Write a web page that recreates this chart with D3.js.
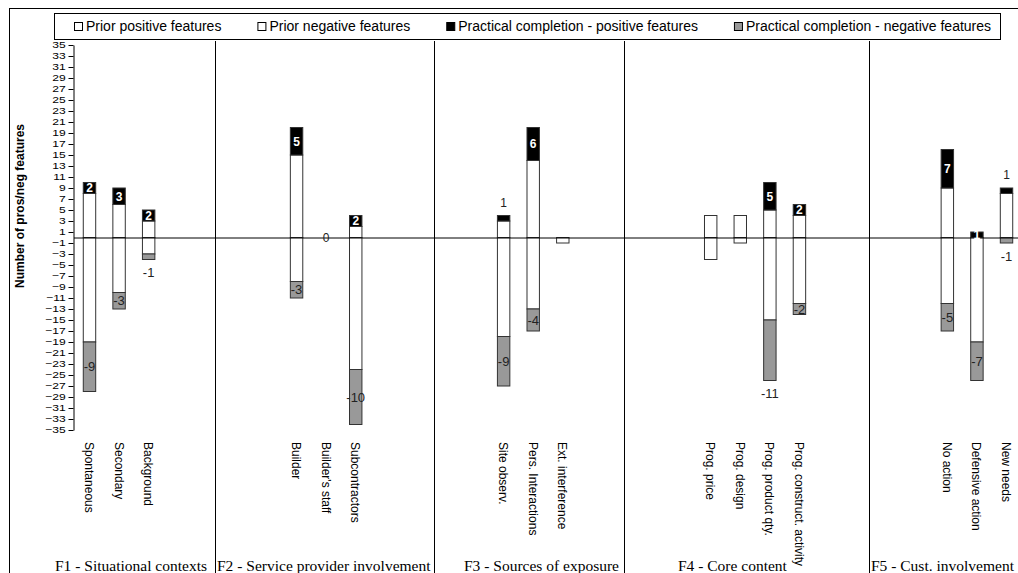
<!DOCTYPE html>
<html><head><meta charset="utf-8">
<script src="https://cdn.jsdelivr.net/npm/d3@7"></script>
<style>
body{margin:0;background:#fff}
svg{display:block}
text{font-family:"Liberation Sans",Arial,sans-serif}
text.serif{font-family:"Liberation Serif","Times New Roman",serif}
</style>
</head><body>
<svg id="c" width="1018" height="573"></svg>
<script>
// ---------- data ----------
const groupNames = ["F1 - Situational contexts","F2 - Service provider involvement","F3 - Sources of exposure","F4 - Core content","F5 - Cust. involvement"];
const categories = ["Spontaneous","Secondary","Background","Builder","Builder's staff","Subcontractors","Site observ.","Pers. Interactions","Ext. interference","Prog. price","Prog. design","Prog. product qty.","Prog. construct. activity","No action","Defensive action","New needs"];
const categoryGroup = [0,0,0,1,1,1,2,2,2,3,3,3,3,4,4,4];
const priorPositive     = [8,6,3, 15,0,2, 3,14,0, 4,4,5,4, 9,0,8];
const priorNegative     = [19,10,3, 8,0,24, 18,13,1, 4,1,15,12, 12,19,0];
const practicalPositive = [2,3,2, 5,0,2, 1,6,0, 0,0,5,2, 7,1,1];
const practicalNegative = [9,3,1, 3,0,10, 9,4,0, 0,0,11,2, 5,7,1];
const yTicks = [35,33,31,29,27,25,23,21,19,17,15,13,11,9,7,5,3,1,-1,-3,-5,-7,-9,-11,-13,-15,-17,-19,-21,-23,-25,-27,-29,-31,-33,-35];
const legendLabels = ["Prior positive features","Prior negative features","Practical completion - positive features","Practical completion - negative features"];
const labelAbove = ["Site observ.","New needs"];
const labelBelow = ["Background","Prog. product qty.","New needs"];

// ---------- layout ----------
const svg = d3.select("#c");
const W = 1018, H = 573;
const gapSlots = 4;
const legendFill = ["#fff","#fff","#000","#999"];

// band domain with spacer slots between groups
const domain = [];
groupNames.forEach((g, gi) => {
  if (gi > 0) for (let k = 0; k < gapSlots; k++) domain.push("gap" + gi + "_" + k);
  categories.forEach((c, ci) => { if (categoryGroup[ci] === gi) domain.push(c); });
});

const x = d3.scaleBand().domain(domain).range([74.2, 1020.8]).paddingInner(0.58).paddingOuter(0.29);
const y = d3.scaleLinear().domain([-35, 35]).range([430, 45]);
const bw = x.bandwidth();

// outer frame
svg.append("line").attr("x1",9).attr("x2",W).attr("y1",8.5).attr("y2",8.5).attr("stroke","#000");
svg.append("line").attr("x1",9.5).attr("x2",9.5).attr("y1",8).attr("y2",H).attr("stroke","#000");
// group separators
[215.5, 434.5, 624.5, 869.5].forEach(sx => {
  svg.append("line").attr("x1",sx).attr("x2",sx).attr("y1",41).attr("y2",H).attr("stroke","#000");
});

// legend
const lg = svg.append("g");
lg.append("rect").attr("x",54.5).attr("y",13.5).attr("width",946).attr("height",26).attr("fill","#fff").attr("stroke","#000");
let lx = 74;
legendLabels.forEach((lab, i) => {
  lg.append("rect").attr("x",lx+0.5).attr("y",22.5).attr("width",8).attr("height",8)
    .attr("fill",legendFill[i]).attr("stroke", "#000");
  const t = lg.append("text").attr("x",lx+12).attr("y",31).attr("font-size",14).attr("fill","#000").text(lab);
  lx += 12 + t.node().getComputedTextLength() + 36;
});

// y axis
const yAxis = svg.append("g").attr("transform","translate(73.5,0)")
  .call(d3.axisLeft(y).tickValues(yTicks).tickSize(5).tickSizeOuter(0).tickPadding(2));
yAxis.attr("font-family", null).attr("font-size", null);
yAxis.select(".domain").attr("stroke","#000");
yAxis.selectAll(".tick line").attr("stroke","#000");
yAxis.selectAll(".tick text").attr("font-size",11).attr("fill","#000")
  .attr("transform","scale(1.1,0.85)");

svg.append("text").attr("transform","translate(24,206) rotate(-90)")
  .attr("text-anchor","middle").attr("font-size",12).attr("font-weight","bold").attr("fill","#000")
  .text("Number of pros/neg features");

// bars
const bars = svg.append("g");
categories.forEach((c, i) => {
  const bx = x(c);
  const segs = [
    {lo: 0, hi: priorPositive[i], fill: "#fff"},
    {lo: priorPositive[i], hi: priorPositive[i] + practicalPositive[i], fill: "#000"},
    {lo: -priorNegative[i], hi: 0, fill: "#fff"},
    {lo: -priorNegative[i] - practicalNegative[i], hi: -priorNegative[i], fill: "#999"}
  ];
  segs.forEach(s => {
    if (s.hi - s.lo <= 0) return;
    bars.append("rect").attr("x", bx + 0.5).attr("width", bw)
      .attr("y", y(s.hi)).attr("height", y(s.lo) - y(s.hi))
      .attr("fill", s.fill).attr("stroke", "#333").attr("stroke-width", 1);
  });
});

// zero line
svg.append("line").attr("x1",74).attr("x2",W).attr("y1",y(0)+0.5).attr("y2",y(0)+0.5).attr("stroke","#000");

// value labels
const labs = svg.append("g").attr("text-anchor","middle");
categories.forEach((c, i) => {
  const cx = x(c) + bw / 2 + 0.5;
  const pp = priorPositive[i], pn = priorNegative[i], qp = practicalPositive[i], qn = practicalNegative[i];
  if (pp + pn + qp + qn === 0) {
    labs.append("text").attr("x", cx).attr("y", y(0)).attr("dy","0.35em")
      .attr("font-size",12).attr("fill","#222").text("0");
    return;
  }
  if (qp > 0) {
    if (labelAbove.includes(c)) {
      labs.append("text").attr("x", cx).attr("y", y(pp + qp) - 13).attr("dy","0.35em")
        .attr("font-size",12).attr("fill","#222").text(qp);
    } else {
      labs.append("text").attr("x", cx).attr("y", (y(pp) + y(pp + qp)) / 2).attr("dy","0.36em")
        .attr("font-size",12).attr("font-weight","bold").attr("fill","#fff").text(qp);
    }
  }
  if (qn > 0) {
    if (labelBelow.includes(c)) {
      labs.append("text").attr("x", cx).attr("y", y(-pn - qn) + 13).attr("dy","0.35em")
        .attr("font-size",13).attr("fill","#222").text(-qn);
    } else {
      labs.append("text").attr("x", cx).attr("y", (y(-pn) + y(-pn - qn)) / 2).attr("dy","0.35em")
        .attr("font-size",13).attr("fill","#222").text(-qn);
    }
  }
});

// category labels (rotated)
const cl = svg.append("g");
categories.forEach(c => {
  const cx = x(c) + bw / 2;
  cl.append("text").attr("transform", `translate(${cx},442) rotate(90)`)
    .attr("dominant-baseline","central").attr("font-size",12).attr("fill","#000").text(c);
});

// group labels
const groupLabelX = [55, 217, 464, 678, 871];
groupNames.forEach((g, gi) => {
  svg.append("text").attr("class","serif").attr("x", groupLabelX[gi]).attr("y", 571)
    .attr("font-size",15.5).attr("fill","#000").text(g);
});
</script>
</body></html>
